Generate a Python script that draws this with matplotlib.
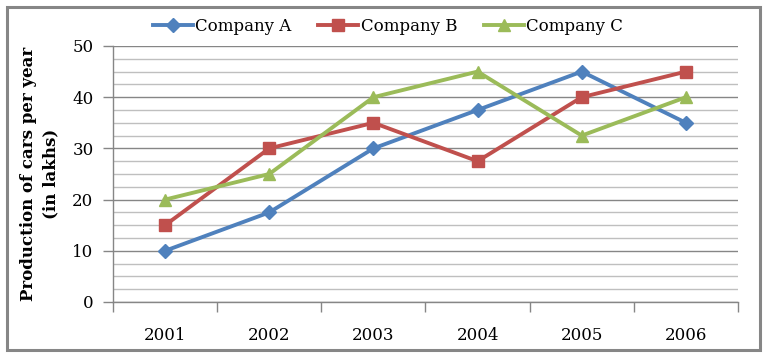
import matplotlib
matplotlib.use("Agg")
import matplotlib.pyplot as plt
from matplotlib.patches import Rectangle
from matplotlib.ticker import MultipleLocator, FixedLocator, NullFormatter

years = ["2001", "2002", "2003", "2004", "2005", "2006"]
company_a = [10, 17.5, 30, 37.5, 45, 35]
company_b = [15, 30, 35, 27.5, 40, 45]
company_c = [20, 25, 40, 45, 32.5, 40]

plt.rcParams['font.family'] = ['DejaVu Serif']

fig = plt.figure(figsize=(7.69, 3.59), dpi=100)
ax = fig.add_axes([113/769, 1 - 302/359, (738-113)/769, (302-46)/359])

fig.patches.append(Rectangle((7/769, 1 - 350/359), (760-7)/769, (350-7)/359,
                             transform=fig.transFigure, fill=False,
                             edgecolor='#868686', linewidth=2.2))

x = list(range(len(years)))
ax.plot(x, company_a, color='#4F81BD', marker='D', markersize=7, linewidth=2.8, label='Company A')
ax.plot(x, company_b, color='#C0504D', marker='s', markersize=9, linewidth=2.8, label='Company B')
ax.plot(x, company_c, color='#9BBB59', marker='^', markersize=9, linewidth=2.8, label='Company C')

ax.set_xlim(-0.5, len(years) - 0.5)
ax.set_ylim(0, 50)
ax.yaxis.set_major_locator(MultipleLocator(10))
ax.yaxis.set_minor_locator(MultipleLocator(2.5))
ax.grid(axis='y', which='major', color='#868686', linewidth=1.0)
ax.grid(axis='y', which='minor', color='#BFBFBF', linewidth=1.0)
ax.set_axisbelow(True)

ax.set_xticks(x)
ax.set_xticklabels(years)
ax.tick_params(axis='x', which='major', length=0, pad=18, labelsize=12)
ax.xaxis.set_minor_locator(FixedLocator([i - 0.5 for i in range(len(years) + 1)]))
ax.xaxis.set_minor_formatter(NullFormatter())
ax.tick_params(axis='x', which='minor', length=7, color='#868686', width=1)
ax.tick_params(axis='y', which='major', length=7, color='#868686', width=1, labelsize=12, pad=7)
ax.tick_params(axis='y', which='minor', length=0)

for side in ['top', 'right']:
    ax.spines[side].set_visible(False)
for side in ['left', 'bottom']:
    ax.spines[side].set_color('#868686')
    ax.spines[side].set_linewidth(1.0)

ax.set_ylabel('Production of cars per year\n(in lakhs)', fontsize=12, fontweight='bold',
              labelpad=9, linespacing=1.45)

leg = ax.legend(loc='lower center', bbox_to_anchor=(0.44, 1.0), ncol=3, frameon=False,
                fontsize=12, handlelength=2.4, columnspacing=1.6, handletextpad=0.15,
                borderaxespad=0.25)

fig.savefig('out.png', dpi=100)
